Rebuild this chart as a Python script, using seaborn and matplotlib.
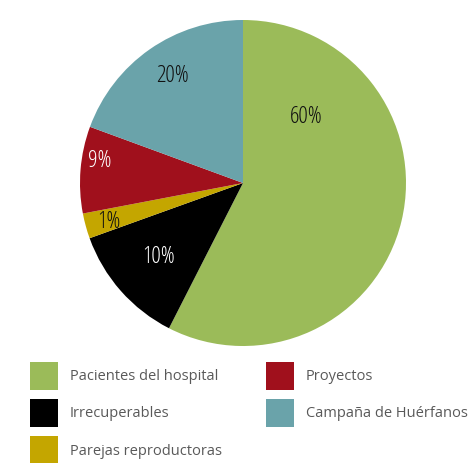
import numpy as np
import seaborn as sns
from matplotlib import pyplot as plt
from matplotlib.patches import Patch

sns.set_theme(style="white")
plt.rcParams['font.family'] = ['Open Sans', 'DejaVu Sans']

categories = ["Pacientes del hospital", "Irrecuperables", "Parejas reproductoras",
              "Proyectos", "Campaña de Huérfanos"]
shares = [57.5, 12.0, 2.5, 8.6, 19.4]
pct_labels = ["60%", "10%", "1%", "9%", "20%"]
colors = ["#9bbb59", "#000000", "#c4a600", "#a0101c", "#6aa3aa"]
label_colors = ["#111111", "#ffffff", "#111111", "#ffffff", "#111111"]
# label placement: (radius fraction, angle shift in degrees from wedge middle)
label_pos = [(0.56, 60.0), (0.69, 0.0), (0.86, 1.0), (0.89, -4.0), (0.79, -1.5)]

W, H = 472, 463
fig = plt.figure(figsize=(W / 100, H / 100), dpi=100)
cx, cy, r = 243, 183, 163
ax = fig.add_axes([(cx - r) / W, (H - cy - r) / H, 2 * r / W, 2 * r / H])

wedges, _ = ax.pie(shares, colors=colors, startangle=90, counterclock=False,
                   wedgeprops=dict(linewidth=0))
ax.set_xlim(-1, 1)
ax.set_ylim(-1, 1)
ax.set_aspect('equal')
ax.axis('off')

for w, txt, tc, (rf, shift) in zip(wedges, pct_labels, label_colors, label_pos):
    ang = np.deg2rad((w.theta1 + w.theta2) / 2 + shift)
    ax.text(rf * np.cos(ang), rf * np.sin(ang), txt, ha='center', va='center',
            fontsize=17, color=tc, fontstretch='condensed',
            family=['Liberation Sans Narrow', 'Open Sans', 'DejaVu Sans'])

handles = [Patch(facecolor=c, edgecolor='none') for c in colors]
fig.legend(handles, categories, loc='upper left', bbox_to_anchor=(18 / W, 1 - 350 / H),
           ncol=2, frameon=False, fontsize=10.5, labelcolor='#595959',
           handlelength=1.95, handleheight=2.6, handletextpad=0.8,
           labelspacing=0.62, columnspacing=3.0, borderpad=0.3)

fig.savefig("out.png", dpi=100)
